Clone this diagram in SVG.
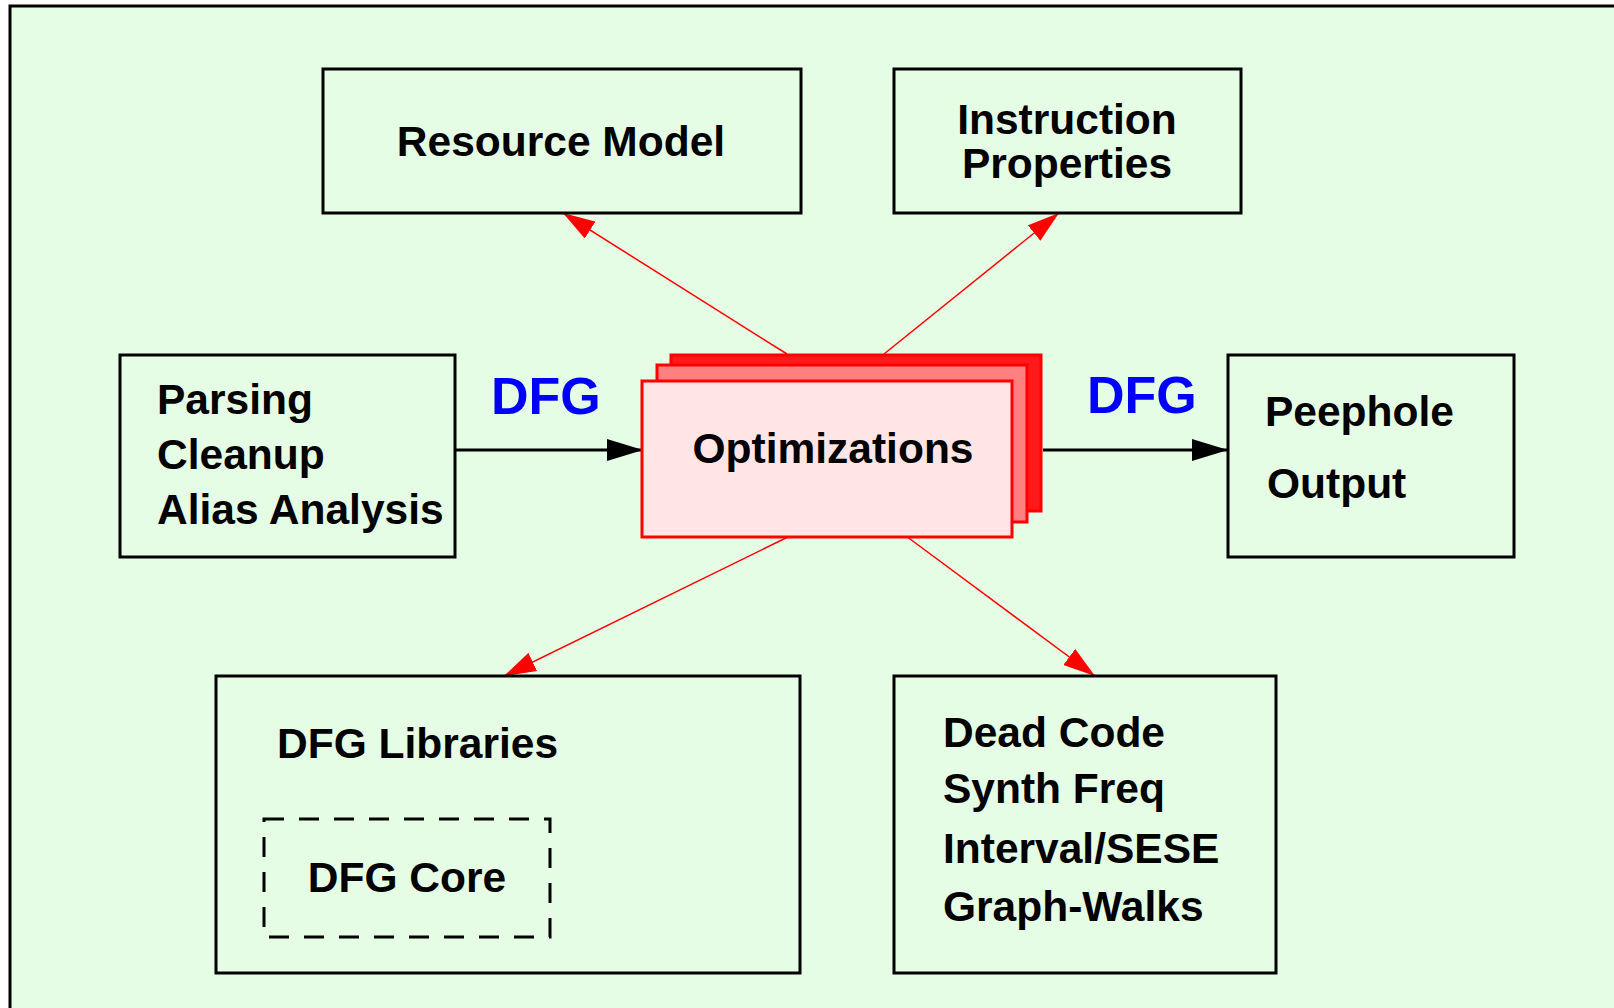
<svg xmlns="http://www.w3.org/2000/svg" width="1614" height="1008" viewBox="0 0 1614 1008">
<defs>
<style>
.box{fill:#e5fde5;stroke:#000;stroke-width:3}
.t{font-family:"Liberation Sans",Arial,sans-serif;font-weight:bold;font-size:42.5px;fill:#000}
.dfg{font-family:"Liberation Sans",Arial,sans-serif;font-weight:bold;font-size:52px;fill:#0000ff}
.red{stroke:#ff0000;stroke-width:1.5;fill:none}
.blk{stroke:#000;stroke-width:3;fill:none}
</style>
<marker id="ar" markerUnits="userSpaceOnUse" markerWidth="32" markerHeight="20" refX="32" refY="10" orient="auto" viewBox="0 0 32 20">
<path d="M0,0 L32,10 L0,20 z" fill="#ff0000"/>
</marker>
<marker id="ab" markerUnits="userSpaceOnUse" markerWidth="36" markerHeight="22" refX="36" refY="11" orient="auto" viewBox="0 0 36 22">
<path d="M0,0 L36,11 L0,22 z" fill="#000"/>
</marker>
</defs>
<rect x="0" y="0" width="1614" height="1008" fill="#ffffff"/>
<rect x="10" y="6" width="1700" height="1100" fill="#e5fde5" stroke="#000" stroke-width="3"/>

<g id="connectors">
<line class="red" x1="787" y1="354" x2="563" y2="213" marker-end="url(#ar)"/>
<line class="red" x1="884" y1="354" x2="1059" y2="213" marker-end="url(#ar)"/>
<line class="red" x1="790" y1="536" x2="504" y2="676" marker-end="url(#ar)"/>
<line class="red" x1="906" y1="536" x2="1095" y2="676" marker-end="url(#ar)"/>
<line class="blk" x1="455" y1="450" x2="643" y2="450" marker-end="url(#ab)"/>
<line class="blk" x1="1043" y1="450" x2="1228" y2="450" marker-end="url(#ab)"/>
</g>

<g id="resource-model">
<rect class="box" x="323" y="69" width="478" height="144"/>
<text class="t" x="561" y="156" text-anchor="middle">Resource Model</text>
</g>

<g id="instruction-properties">
<rect class="box" x="894" y="69" width="347" height="144"/>
<text class="t" x="1067" y="134" text-anchor="middle">Instruction</text>
<text class="t" x="1067" y="178" text-anchor="middle">Properties</text>
</g>

<g id="parsing">
<rect class="box" x="120" y="355" width="335" height="202"/>
<text class="t" x="157" y="414">Parsing</text>
<text class="t" x="157" y="469">Cleanup</text>
<text class="t" x="157" y="524">Alias Analysis</text>
</g>

<g id="optimizations">
<rect x="671" y="355" width="370" height="156" fill="#ff1a1a" stroke="#ff0000" stroke-width="3"/>
<rect x="657" y="365" width="370" height="157" fill="#ff8080" stroke="#ff0000" stroke-width="3"/>
<rect x="642" y="381" width="370" height="156" fill="#ffe5e5" stroke="#ff0000" stroke-width="3"/>
<text class="t" x="833" y="463" text-anchor="middle">Optimizations</text>
</g>

<g id="peephole">
<rect class="box" x="1228" y="355" width="286" height="202"/>
<text class="t" x="1265" y="426">Peephole</text>
<text class="t" x="1267" y="498">Output</text>
</g>

<g id="dfg-labels">
<text class="dfg" x="491" y="414">DFG</text>
<text class="dfg" x="1087" y="413">DFG</text>
</g>

<g id="dfg-libraries">
<rect class="box" x="216" y="676" width="584" height="297"/>
<text class="t" x="277" y="758">DFG Libraries</text>
</g>

<g id="dfg-core">
<rect x="264" y="819" width="286" height="118" fill="none" stroke="#000" stroke-width="3" stroke-dasharray="20,15"/>
<text class="t" x="407" y="892" text-anchor="middle">DFG Core</text>
</g>

<g id="dead-code">
<rect class="box" x="894" y="676" width="382" height="297"/>
<text class="t" x="943" y="747">Dead Code</text>
<text class="t" x="943" y="803">Synth Freq</text>
<text class="t" x="943" y="863">Interval/SESE</text>
<text class="t" x="943" y="921">Graph-Walks</text>
</g>
</svg>
